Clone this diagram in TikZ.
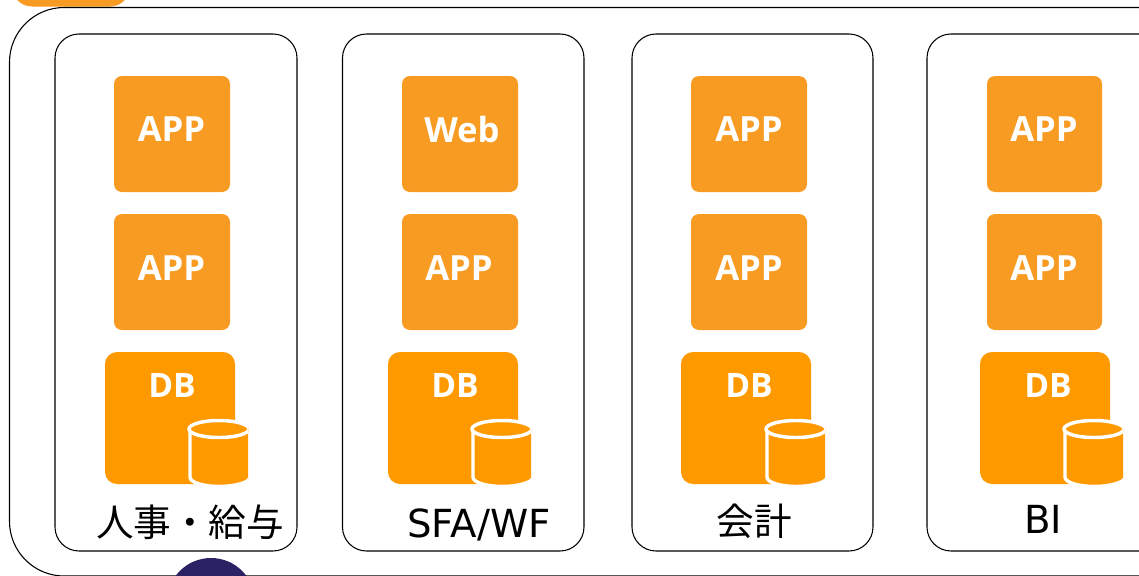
\documentclass[tikz,border=0pt]{standalone}
\usepackage{fontspec}
\setmainfont{DejaVu Sans}
\newfontfamily\boldlabel{Open Sans}[BoldFont={Open Sans Bold}]
\newfontfamily\cjkfont{Noto Sans CJK JP}
\definecolor{appor}{HTML}{F89B22}
\definecolor{dbor}{HTML}{FF9900}
\definecolor{navy}{HTML}{2A2262}
\tikzset{
  groupbox/.style={draw=black,line width=0.8pt,rounded corners=18pt,fill=white},
  outerbox/.style={draw=black,line width=0.8pt,rounded corners=41pt,fill=white},
  appbox/.style={fill=appor,rounded corners=6pt},
  dbbox/.style={fill=dbor,rounded corners=9pt},
  applabel/.style={text=white,font=\boldlabel\bfseries\fontsize{26}{30}\selectfont,inner sep=0pt},
  dblabel/.style={text=white,font=\boldlabel\bfseries\fontsize{25.2}{29}\selectfont,inner sep=0pt},
  grouplabel/.style={text=black,font=\fontsize{29}{34}\selectfont,inner sep=0pt},
  cjklabel/.style={text=black,font=\cjkfont\fontsize{28.2}{34}\selectfont,inner sep=0pt},
}
\newcommand{\dbcyl}[1]{%
  \begin{scope}[shift={(#1,0)}]
    \begin{scope}
      \clip (186,415) rectangle (248,490);
      \path[fill=dbor,draw=white,line width=2.6pt] (190,429) -- (190,477)
        .. controls (190,483) and (205,486.5) .. (219,486.5)
        .. controls (233,486.5) and (250,483) .. (250,477) -- (250,429) -- cycle;
      \path[fill=dbor,draw=white,line width=2.6pt] (219,429) ellipse [x radius=30,y radius=8.5];
    \end{scope}
  \end{scope}}
\begin{document}
\begin{tikzpicture}[x=0.75pt,y=-0.75pt]
\useasboundingbox (0,0) rectangle (1139,575);
\clip (0,0) rectangle (1139,575);
\fill[white] (0,0) rectangle (1139,575);
\fill[appor,rounded corners=15pt] (12,-40) rectangle (130,6.5);
\path[outerbox] (9.5,7.5) rectangle (1200,576);
\fill[navy] (211,602) circle [radius=44];
\path[groupbox] (55,34) rectangle (297,551);
\path[groupbox] (342.5,34) rectangle (584,551);
\path[groupbox] (632,34) rectangle (873,551);
\path[groupbox] (927,34) rectangle (1200,551);
% column 1
\path[appbox] (114,76) rectangle (230,192);
\path[appbox] (114,214) rectangle (230,330);
\path[dbbox] (105,352) rectangle (235,484);
\dbcyl{0}
\node[applabel] (a1) at (171.5,129) {APP};
\node[applabel] (a2) at (171.5,268) {APP};
\node[dblabel] (d1) at (172,386) {DB};
\node[cjklabel] (l1) at (190,522) {人事・給与};
% column 2
\path[appbox] (402,76) rectangle (518,192);
\path[appbox] (402,214) rectangle (518,330);
\path[dbbox] (388,352) rectangle (518,484);
\dbcyl{283}
\node[applabel] (b1) at (462,129) {Web};
\node[applabel] (b2) at (459,268) {APP};
\node[dblabel] (d2) at (455,386) {DB};
\node[grouplabel] (l2) at (479,525) {SFA/WF};
% column 3
\path[appbox] (691,76) rectangle (807,192);
\path[appbox] (691,214) rectangle (807,330);
\path[dbbox] (681,352) rectangle (811,484);
\dbcyl{577}
\node[applabel] (c1) at (749,129) {APP};
\node[applabel] (c2) at (749,268) {APP};
\node[dblabel] (d3) at (749,386) {DB};
\node[cjklabel] (l3) at (754,521) {会計};
% column 4
\path[appbox] (987,76) rectangle (1102,192);
\path[appbox] (987,214) rectangle (1102,330);
\path[dbbox] (980,352) rectangle (1110,484);
\dbcyl{875}
\node[applabel] (e1) at (1044,129) {APP};
\node[applabel] (e2) at (1044,268) {APP};
\node[dblabel] (d4) at (1048,386) {DB};
\node[grouplabel] (l4) at (1043,519) {BI};
\end{tikzpicture}
\end{document}
